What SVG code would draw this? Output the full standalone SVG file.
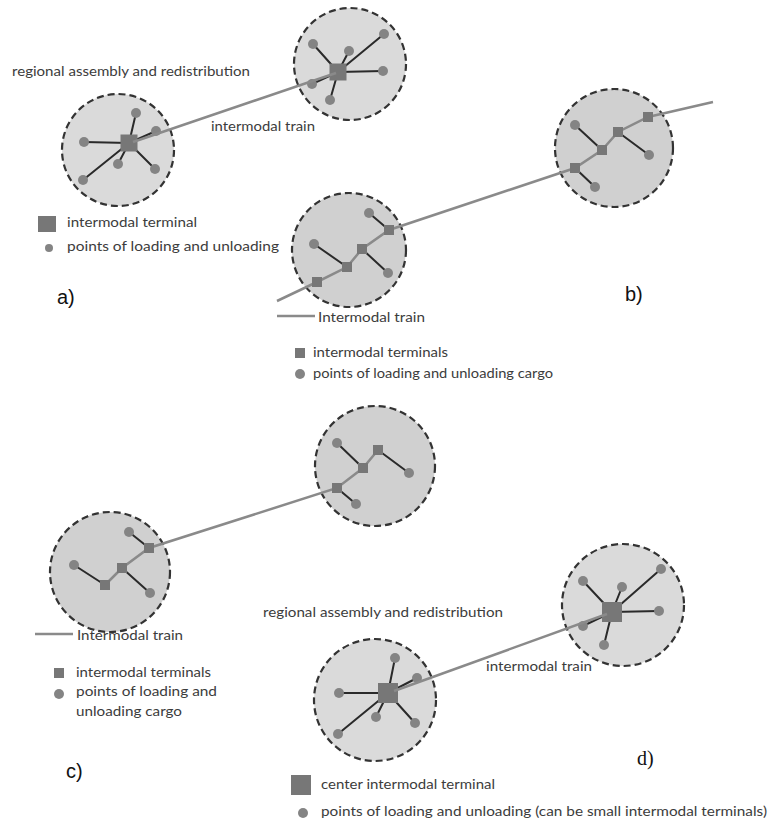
<svg xmlns="http://www.w3.org/2000/svg" width="768" height="820" viewBox="0 0 768 820">
<style>
.reg{stroke:#333;stroke-width:2.2;stroke-dasharray:7 4}
.ra{fill:#dadada}.rb{fill:#d0d0d0}
.sp{stroke:#2a2a2a;stroke-width:2;fill:none}
.tr{stroke:#8a8a8a;stroke-width:2.5;fill:none}
.sq{fill:#777}
.dt{fill:#848484}
.t{font-family:Lato,"Open Sans","Liberation Sans",sans-serif;font-size:13px;fill:#3c3c3c}
.lb{font-size:20px;fill:#111}
</style>
<rect width="768" height="820" fill="#fff"/>

<!-- Panel a -->
<g id="a-region-left">
<circle class="reg ra" cx="118" cy="150" r="56"/>
<path class="sp" d="M129 143L136 113M129 143L156 131M129 143L84 142M129 143L118 164M129 143L155 169M129 143L83 180"/>
<g class="dt"><circle cx="136" cy="113" r="5"/><circle cx="156" cy="131" r="5"/><circle cx="84" cy="142" r="5"/><circle cx="118" cy="164" r="5"/><circle cx="155" cy="169" r="5"/><circle cx="83" cy="180" r="5"/></g>
<rect class="sq" x="120.5" y="134.5" width="17" height="17"/>
</g>
<g id="a-region-right">
<circle class="reg ra" cx="350" cy="64" r="56"/>
<path class="sp" d="M338 72L313 44M338 72L349 51M338 72L384 34M338 72L383 71M338 72L312 84M338 72L330 100"/>
<g class="dt"><circle cx="313" cy="44" r="5"/><circle cx="349" cy="51" r="5"/><circle cx="384" cy="34" r="5"/><circle cx="383" cy="71" r="5"/><circle cx="312" cy="84" r="5"/><circle cx="330" cy="100" r="5"/></g>
<rect class="sq" x="329.5" y="63.5" width="17" height="17"/>
</g>
<g id="a-connectors">
<path class="tr" d="M133 142L336 73"/>
</g>
<g id="a-labels">
<text class="t" x="12" y="76" textLength="238" lengthAdjust="spacingAndGlyphs">regional assembly and redistribution</text>
<text class="t" x="211" y="131" textLength="104" lengthAdjust="spacingAndGlyphs">intermodal train</text>
<rect class="sq" x="38" y="216" width="18" height="16"/>
<text class="t" x="67" y="227" textLength="130" lengthAdjust="spacingAndGlyphs">intermodal terminal</text>
<circle class="dt" cx="49" cy="248" r="4"/>
<text class="t" x="67" y="251" textLength="212" lengthAdjust="spacingAndGlyphs">points of loading and unloading</text>
<text class="lb" x="57" y="304" font-family="Liberation Sans, sans-serif">a)</text>
</g>

<!-- Panel b -->
<g id="b-region-left">
<circle class="reg rb" cx="349" cy="250" r="57"/>
</g>
<g id="b-region-right">
<circle class="reg rb" cx="614" cy="148" r="59"/>
</g>
<g id="b-connectors">
<path class="tr" d="M277 301L317 282L347 267L362 249L389 230L575 168L602 150L618 132L648 117L713 102"/>
<path class="sp" d="M369 213L389 230M314 244L347 267M362 249L388 273"/>
<path class="sp" d="M575 125L602 150M618 132L649 155M575 168L595 187"/>
</g>
<g id="b-nodes">
<g class="sq"><rect x="312" y="277" width="10" height="10"/><rect x="342" y="262" width="10" height="10"/><rect x="357" y="244" width="10" height="10"/><rect x="384" y="225" width="10" height="10"/>
<rect x="570" y="163" width="10" height="10"/><rect x="597" y="145" width="10" height="10"/><rect x="613" y="127" width="10" height="10"/><rect x="643" y="112" width="10" height="10"/></g>
<g class="dt"><circle cx="369" cy="213" r="5"/><circle cx="314" cy="244" r="5"/><circle cx="388" cy="273" r="5"/>
<circle cx="575" cy="125" r="5"/><circle cx="649" cy="155" r="5"/><circle cx="595" cy="187" r="5"/></g>
</g>
<g id="b-labels">
<path class="tr" d="M277 316H315"/>
<text class="t" x="318" y="322" textLength="107" lengthAdjust="spacingAndGlyphs">Intermodal train</text>
<rect class="sq" x="295" y="348" width="10" height="10"/>
<text class="t" x="313" y="357" textLength="135" lengthAdjust="spacingAndGlyphs">intermodal terminals</text>
<circle class="dt" cx="300" cy="374" r="5"/>
<text class="t" x="313" y="378" textLength="240" lengthAdjust="spacingAndGlyphs">points of loading and unloading cargo</text>
<text class="lb" x="625" y="301" font-family="Liberation Sans, sans-serif">b)</text>
</g>

<!-- Panel c -->
<g id="c-region-left">
<circle class="reg rb" cx="110" cy="572" r="60"/>
</g>
<g id="c-region-right">
<circle class="reg rb" cx="375" cy="466" r="60"/>
</g>
<g id="c-connectors">
<path class="tr" d="M105 585L122 568L149 548L337 488L363 468L378 450"/>
<path class="sp" d="M74 565L105 585M129 532L149 548M122 568L150 593"/>
<path class="sp" d="M337 443L363 468M378 450L409 473M337 488L356 504"/>
</g>
<g id="c-nodes">
<g class="sq"><rect x="100" y="580" width="10" height="10"/><rect x="117" y="563" width="10" height="10"/><rect x="144" y="543" width="10" height="10"/>
<rect x="332" y="483" width="10" height="10"/><rect x="358" y="463" width="10" height="10"/><rect x="373" y="445" width="10" height="10"/></g>
<g class="dt"><circle cx="74" cy="565" r="5"/><circle cx="129" cy="532" r="5"/><circle cx="150" cy="593" r="5"/>
<circle cx="337" cy="443" r="5"/><circle cx="409" cy="473" r="5"/><circle cx="356" cy="504" r="5"/></g>
</g>
<g id="c-labels">
<path class="tr" d="M35 634H73"/>
<text class="t" x="77" y="640" textLength="106" lengthAdjust="spacingAndGlyphs">Intermodal train</text>
<rect class="sq" x="54" y="668" width="10" height="10"/>
<text class="t" x="76" y="677" textLength="135" lengthAdjust="spacingAndGlyphs">intermodal terminals</text>
<circle class="dt" cx="59" cy="694" r="5"/>
<text class="t" x="76" y="696" textLength="141" lengthAdjust="spacingAndGlyphs">points of loading and</text>
<text class="t" x="76" y="716" textLength="106" lengthAdjust="spacingAndGlyphs">unloading cargo</text>
<text class="lb" x="66" y="778" font-family="Liberation Sans, sans-serif">c)</text>
</g>

<!-- Panel d -->
<g id="d-region-left">
<circle class="reg ra" cx="375" cy="700" r="61"/>
<path class="sp" d="M388 693L395 658M388 693L417 678M388 693L339 693M388 693L376 717M388 693L415 723M388 693L338 734"/>
<g class="dt"><circle cx="395" cy="658" r="5"/><circle cx="417" cy="678" r="5"/><circle cx="339" cy="693" r="5"/><circle cx="376" cy="717" r="5"/><circle cx="415" cy="723" r="5"/><circle cx="338" cy="734" r="5"/></g>
<rect class="sq" x="378" y="683" width="20" height="20"/>
</g>
<g id="d-region-right">
<circle class="reg ra" cx="623" cy="605" r="61"/>
<path class="sp" d="M612 612L583 581M612 612L622 587M612 612L661 569M612 612L659 611M612 612L583 626M612 612L604 645"/>
<g class="dt"><circle cx="583" cy="581" r="5"/><circle cx="622" cy="587" r="5"/><circle cx="661" cy="569" r="5"/><circle cx="659" cy="611" r="5"/><circle cx="583" cy="626" r="5"/><circle cx="604" cy="645" r="5"/></g>
<rect class="sq" x="602" y="602" width="20" height="20"/>
</g>
<g id="d-connectors">
<path class="tr" d="M394 691L607 614"/>
</g>
<g id="d-labels">
<text class="t" x="263" y="617" textLength="240" lengthAdjust="spacingAndGlyphs">regional assembly and redistribution</text>
<text class="t" x="486" y="671" textLength="106" lengthAdjust="spacingAndGlyphs">intermodal train</text>
<text class="lb" x="637" y="765" font-family="Liberation Serif, serif">d)</text>
<rect class="sq" x="291" y="775" width="20" height="20"/>
<text class="t" x="321" y="789" textLength="174" lengthAdjust="spacingAndGlyphs">center intermodal terminal</text>
<circle class="dt" cx="303" cy="813" r="5"/>
<text class="t" x="321" y="816" textLength="446" lengthAdjust="spacingAndGlyphs">points of loading and unloading (can be small intermodal terminals)</text>
</g>
</svg>
